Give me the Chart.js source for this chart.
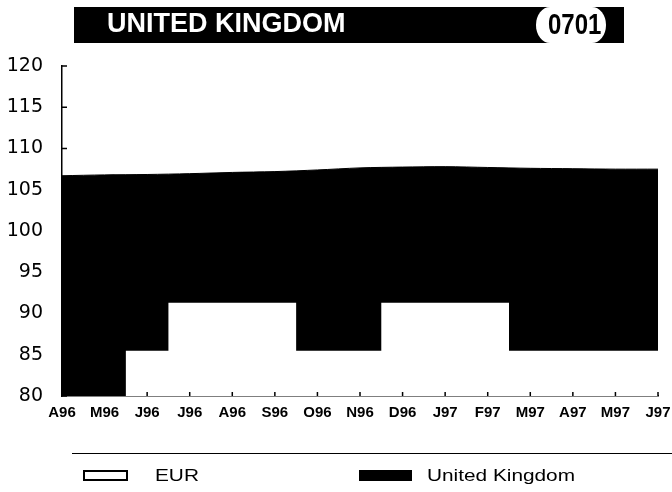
<!DOCTYPE html>
<html>
<head>
<meta charset="utf-8">
<script src="https://cdn.jsdelivr.net/npm/chart.js@4"></script>
<style>
    html, body { margin: 0; padding: 0; background: #fff; }
    body { width: 672px; height: 492px; position: relative; overflow: hidden; font-family: "Liberation Sans", Arial, sans-serif; }
    #chart { position: absolute; left: 0; top: 0; }

    /* header bar */
    .bar   { position: absolute; left: 74px; top: 7px; width: 550px; height: 36px; background: #000; }
    .pill  { position: absolute; left: 536px; top: 7px; width: 70px; height: 36px; background: #fff; border-radius: 14px / 18px; }
    .code  { position: absolute; left: 548px; top: 6px; height: 36px; line-height: 36px; font-weight: bold; font-size: 30px;
             transform: scaleX(0.8); transform-origin: left center; color: #000; }
    .title { position: absolute; left: 107px; top: 5px; height: 36px; line-height: 36px; font-weight: bold; font-size: 27px; color: #fff; white-space: nowrap; }

    /* legend */
    .rule  { position: absolute; left: 72px; top: 453px; width: 600px; height: 1px; background: #000; }
    .box   { position: absolute; top: 470px; height: 11px; box-sizing: border-box; }
    .lbl   { position: absolute; top: 466px; line-height: 20px; font-size: 16px; white-space: nowrap;
             transform: scaleX(1.3); transform-origin: left center; }
</style>
</head>
<body>
<canvas id="chart" width="672" height="492"></canvas>

<div class="bar"></div>
<div class="pill"></div>
<div class="code">0701</div>
<div class="title">UNITED KINGDOM</div>

<div class="rule"></div>
<div class="box" style="left:83px; width:45px; border:2px solid #000; background:#fff;"></div>
<div class="lbl" style="left:155px;">EUR</div>
<div class="box" style="left:359px; width:53px; background:#000;"></div>
<div class="lbl" style="left:427px;">United Kingdom</div>

<script>
// --- DATA ---
const categories = ['A96', 'M96', 'J96', 'J96', 'A96', 'S96', 'O96', 'N96', 'D96', 'J97', 'F97', 'M97', 'A97', 'M97', 'J97'];
const eurValues  = [80, 80, 85.5, 91.3, 91.3, 91.3, 85.5, 85.5, 91.3, 91.3, 91.3, 85.5, 85.5, 85.5, 85.5];
const ukValues   = [106.7, 106.8, 106.85, 106.95, 107.1, 107.2, 107.4, 107.65, 107.75, 107.8, 107.7, 107.6, 107.55, 107.5, 107.5];
const yMin = 80, yMax = 120, yStep = 5;

// small tick marks pointing into the plot, drawn after the fills
const inwardTicks = {
    id: 'inwardTicks',
    afterDatasetsDraw(chart) {
        const { ctx, chartArea, scales: { x, y } } = chart;
        ctx.save();
        ctx.strokeStyle = '#000';
        ctx.lineWidth = 1.5;
        ctx.beginPath();
        y.ticks.forEach((t, i) => {
            const py = y.getPixelForTick(i);
            ctx.moveTo(chartArea.left, py);
            ctx.lineTo(chartArea.left + 5, py);
        });
        x.ticks.forEach((t, i) => {
            const px = x.getPixelForTick(i);
            ctx.moveTo(px, chartArea.bottom);
            ctx.lineTo(px, chartArea.bottom - 4);
        });
        ctx.stroke();
        ctx.restore();
    }
};

const ctx = document.getElementById('chart').getContext('2d');

new Chart(ctx, {
    type: 'line',
    data: {
        labels: categories,
        datasets: [
            {
                label: 'EUR',
                data: eurValues,
                stepped: 'middle',
                fill: 'start',
                backgroundColor: '#fff',
                borderColor: '#fff',
                borderWidth: 0,
                pointRadius: 0,
            },
            {
                label: 'United Kingdom',
                data: ukValues,
                fill: 'start',
                backgroundColor: '#000',
                borderColor: '#000',
                borderWidth: 1,
                tension: 0.3,
                pointRadius: 0,
            },
        ],
    },
    options: {
        responsive: false,
        animation: false,
        devicePixelRatio: 1,
        layout: { padding: { top: 66, right: 14, bottom: 0, left: 0 } },
        plugins: {
            legend: { display: false },
            tooltip: { enabled: false },
        },
        scales: {
            x: {
                z: 1,
                offset: false,
                grid: { display: false },
                border: { display: true, color: '#000', width: 1.5 },
                ticks: {
                    autoSkip: false,
                    maxRotation: 0,
                    padding: 0,
                    color: '#000',
                    font: { family: '"Liberation Sans", Arial, sans-serif', size: 15, weight: 'bold' },
                },
                afterFit(scale) { scale.height = 96; },
            },
            y: {
                z: 1,
                min: yMin,
                max: yMax,
                grid: { display: false },
                border: { display: true, color: '#000', width: 1.5 },
                ticks: {
                    stepSize: yStep,
                    padding: 11,
                    color: '#000',
                    font: { family: '"DejaVu Sans", sans-serif', size: 19 },
                },
                afterFit(scale) { scale.width = 62; },
            },
        },
    },
    plugins: [inwardTicks],
});
</script>
</body>
</html>
